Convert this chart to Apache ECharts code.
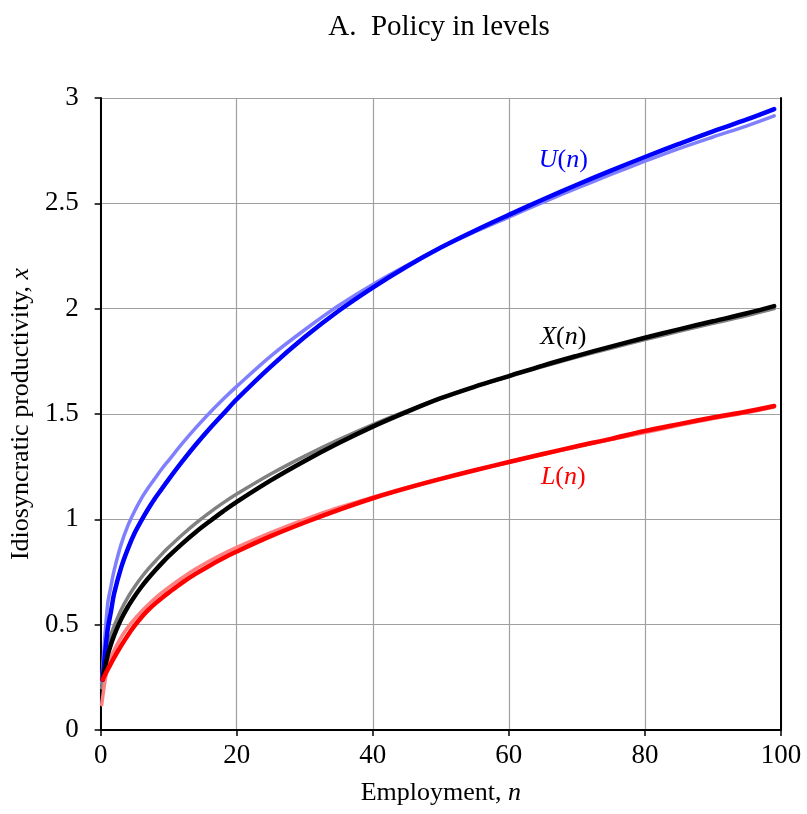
<!DOCTYPE html>
<html>
<head>
<meta charset="utf-8">
<script src="https://cdn.jsdelivr.net/npm/echarts@6/dist/echarts.min.js"></script>
<style>
  html, body { margin: 0; padding: 0; background: #fff; }
  #chart { width: 807px; height: 814px; }
</style>
</head>
<body>
<div id="chart"></div>
<script>
// shared employment grid (first point differs: faint curves start lower)
var nRest = [1, 1.5, 2, 3, 4, 5, 6, 7, 8, 9, 10, 12, 14, 16, 18, 20, 25, 30, 35, 40, 45, 50, 55, 60, 65, 70, 75, 80, 85, 90, 95, 99];
var nBold = [0.3].concat(nRest);
var nFaint = [0.15].concat(nRest);

// bold curves: U(n), X(n), L(n)
var uBold = [0.24, 0.47, 0.56, 0.65, 0.77, 0.86, 0.935, 0.995, 1.05, 1.10, 1.145, 1.19, 1.275, 1.355, 1.43, 1.50, 1.57, 1.725, 1.865, 1.99, 2.10, 2.20, 2.29, 2.37, 2.445, 2.518, 2.588, 2.655, 2.72, 2.782, 2.842, 2.898, 2.947];
var xBold = [0.24, 0.35, 0.405, 0.45, 0.525, 0.585, 0.635, 0.68, 0.72, 0.757, 0.792, 0.825, 0.885, 0.94, 0.99, 1.038, 1.083, 1.185, 1.277, 1.362, 1.44, 1.51, 1.575, 1.63, 1.68, 1.73, 1.776, 1.82, 1.862, 1.902, 1.94, 1.978, 2.012];
var lBold = [0.24, 0.285, 0.315, 0.345, 0.40, 0.45, 0.495, 0.535, 0.57, 0.60, 0.627, 0.652, 0.70, 0.742, 0.78, 0.815, 0.847, 0.92, 0.985, 1.045, 1.10, 1.148, 1.192, 1.233, 1.272, 1.31, 1.347, 1.382, 1.42, 1.452, 1.483, 1.512, 1.538];

// faint curves drawn underneath
var uFaint = [0.22, 0.59, 0.68, 0.76, 0.88, 0.97, 1.04, 1.10, 1.15, 1.195, 1.24, 1.28, 1.36, 1.435, 1.505, 1.57, 1.631, 1.775, 1.90, 2.015, 2.115, 2.205, 2.29, 2.365, 2.435, 2.505, 2.572, 2.637, 2.70, 2.76, 2.815, 2.868, 2.915];
var xFaint = [0.20, 0.39, 0.45, 0.495, 0.57, 0.63, 0.68, 0.725, 0.765, 0.80, 0.835, 0.867, 0.927, 0.982, 1.032, 1.078, 1.12, 1.215, 1.30, 1.378, 1.45, 1.515, 1.575, 1.63, 1.678, 1.725, 1.77, 1.812, 1.853, 1.892, 1.93, 1.967, 2.0];
var lFaint = [0.12, 0.30, 0.345, 0.38, 0.44, 0.487, 0.527, 0.563, 0.595, 0.625, 0.652, 0.677, 0.723, 0.765, 0.802, 0.836, 0.867, 0.937, 1.0, 1.056, 1.105, 1.151, 1.193, 1.233, 1.271, 1.308, 1.344, 1.379, 1.412, 1.446, 1.478, 1.507, 1.533];

// curve label anchors [n, x]
var labelU = [68, 2.706];
var labelX = [68, 1.867];
var labelL = [68, 1.198];

var xTicks = [0, 20, 40, 60, 80, 100];
var yTicks = [0, 0.5, 1, 1.5, 2, 2.5, 3];

function pairs(ns, vs) {
    var out = [];
    ns.forEach(function (n, i) { out.push([n, vs[i]]); });
    return out;
}

var serif = 'Liberation Serif';

function mathLabel(letter, coord, color) {
    return {
        symbol: 'circle',
        symbolSize: 0,
        silent: true,
        data: [{ coord: coord }],
        label: {
            show: true,
            position: 'inside',
            formatter: '{i|' + letter + '}{r|(}{i|n}{r|)}',
            rich: {
                i: { fontFamily: serif, fontStyle: 'italic', fontSize: 26, color: color },
                r: { fontFamily: serif, fontSize: 26, color: color }
            }
        }
    };
}

function curve(name, data, color, width, z, mark) {
    var s = {
        name: name,
        type: 'line',
        data: data,
        showSymbol: false,
        smooth: 0.35,
        z: z,
        silent: true,
        lineStyle: { color: color, width: width, cap: 'round', join: 'round' }
    };
    if (mark) s.markPoint = mark;
    return s;
}

var myChart = echarts.init(document.getElementById('chart'), null, { renderer: 'canvas' });

var option = {
    backgroundColor: '#fff',
    animation: false,
    title: {
        text: 'A.  Policy in levels',
        left: 434,
        top: 8,
        textAlign: 'center',
        textStyle: { fontFamily: serif, fontWeight: 'normal', fontSize: 29, color: '#000' }
    },
    grid: { left: 99, right: 26, top: 98, bottom: 84, containLabel: false },
    xAxis: {
        type: 'value',
        min: 0,
        max: 100,
        interval: 20,
        name: 'Employment, {i|n}',
        nameLocation: 'middle',
        nameGap: 50,
        nameTextStyle: {
            fontFamily: serif, fontSize: 26, color: '#000',
            rich: { i: { fontFamily: serif, fontStyle: 'italic', fontSize: 26, color: '#000' } }
        },
        axisLine: { lineStyle: { color: '#000', width: 2 } },
        axisTick: { show: true, inside: false, length: 6, lineStyle: { color: '#000', width: 1.5 } },
        axisLabel: {
            margin: 12, fontFamily: serif, fontSize: 27, color: '#000',
            formatter: function (v) { return xTicks.indexOf(v) >= 0 ? String(v) : ''; }
        },
        splitLine: { show: true, lineStyle: { color: '#a0a0a0', width: 1.2 } }
    },
    yAxis: [{
        type: 'value',
        min: 0,
        max: 3,
        interval: 0.5,
        name: 'Idiosyncratic productivity, {i|x}',
        nameLocation: 'middle',
        nameGap: 58,
        nameTextStyle: {
            fontFamily: serif, fontSize: 26, color: '#000',
            rich: { i: { fontFamily: serif, fontStyle: 'italic', fontSize: 26, color: '#000' } }
        },
        axisLine: { show: true, lineStyle: { color: '#000', width: 2 } },
        axisTick: { show: true, inside: false, length: 6, lineStyle: { color: '#000', width: 1.5 } },
        axisLabel: {
            margin: 22, fontFamily: serif, fontSize: 27, color: '#000',
            formatter: function (v) { return yTicks.indexOf(v) >= 0 ? String(v) : ''; }
        },
        splitLine: { show: true, lineStyle: { color: '#a0a0a0', width: 1.2 } }
    }, {
        type: 'value',
        position: 'right',
        min: 0,
        max: 3,
        interval: 0.5,
        axisLine: { show: true, lineStyle: { color: '#000', width: 2 } },
        axisTick: { show: false },
        axisLabel: { show: false },
        splitLine: { show: false }
    }],
    series: [
        curve('U approx', pairs(nFaint, uFaint), '#8080ff', 3.5, 2),
        curve('X approx', pairs(nFaint, xFaint), '#808080', 3.5, 2),
        curve('L approx', pairs(nFaint, lFaint), '#ff8080', 3.5, 2),
        curve('U(n)', pairs(nBold, uBold), '#0000ff', 4.5, 3, mathLabel('U', labelU, '#0000ff')),
        curve('X(n)', pairs(nBold, xBold), '#000000', 4.5, 3, mathLabel('X', labelX, '#000000')),
        curve('L(n)', pairs(nBold, lBold), '#ff0000', 4.5, 3, mathLabel('L', labelL, '#ff0000'))
    ]
};

myChart.setOption(option);
</script>
</body>
</html>
